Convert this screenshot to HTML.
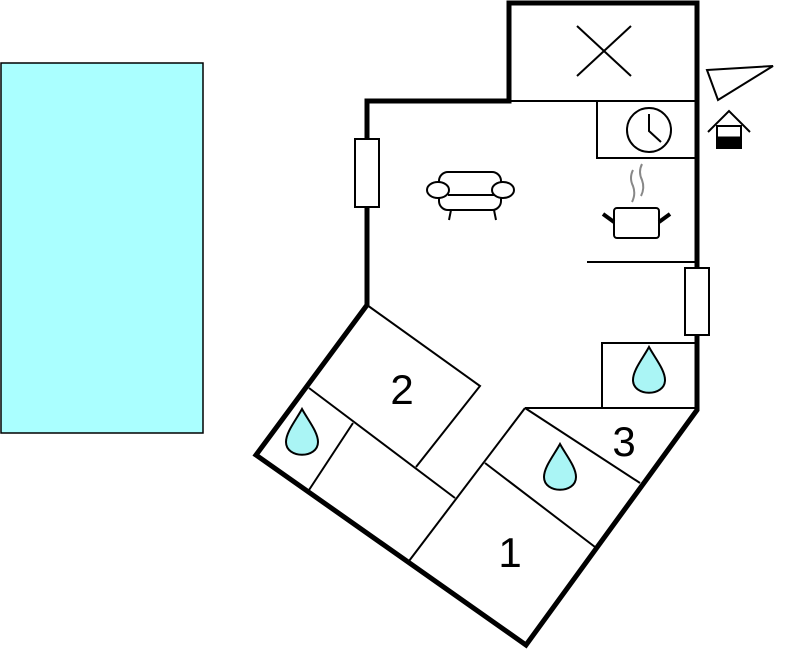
<!DOCTYPE html>
<html><head><style>body{margin:0;background:#fff}svg{display:block}</style></head><body>
<svg width="787" height="652" viewBox="0 0 787 652" xmlns="http://www.w3.org/2000/svg" font-family="Liberation Sans, sans-serif">
<rect x="1" y="63" width="202" height="370" fill="#aaffff" stroke="#000" stroke-width="1.5"/>
<g fill="none" stroke="#000" stroke-linejoin="miter">
<path d="M367,305 L367,101 L509,101 L509,3 L697,3 L697,410 L526,645 L256,455 Z" stroke-width="5"/>
<g stroke-width="2">
<line x1="509" y1="101" x2="697" y2="101"/>
<path d="M697,158 L597,158 L597,101"/>
<line x1="587" y1="262" x2="697" y2="262"/>
<line x1="577" y1="26" x2="631" y2="76"/><line x1="631" y1="26" x2="577" y2="76"/>
<circle cx="649" cy="130" r="22"/>
<path d="M649,114 L649,131 L661,142"/>
<path d="M367,305 L480,386 L416,467"/>
<line x1="309" y1="388" x2="455" y2="498"/>
<line x1="353" y1="423" x2="309" y2="490"/>
<line x1="525" y1="408" x2="409" y2="561"/>
<line x1="485" y1="463" x2="595" y2="547"/>
<line x1="525" y1="408" x2="640" y2="483"/>
<line x1="525" y1="408" x2="697" y2="408"/>
<path d="M697,343 L602,343 L602,408"/>
<path d="M707,70 L773,66 L718,100 Z"/>
<path d="M708,132 L729,111 L750,132"/>
<rect x="717" y="126" width="24" height="22" fill="#fff"/>
</g>
<rect x="717" y="137" width="24" height="11" fill="#000"/>
<rect x="355" y="139" width="24" height="68" fill="#fff" stroke-width="2"/>
<rect x="685" y="268" width="24" height="67" fill="#fff" stroke-width="2"/>
<g stroke-width="2">
<rect x="439" y="172" width="62" height="38" rx="9" fill="#fff"/>
<line x1="448" y1="195" x2="494" y2="195"/>
<ellipse cx="438" cy="190" rx="11" ry="8" fill="#fff"/>
<ellipse cx="503" cy="190" rx="11" ry="8" fill="#fff"/>
<line x1="451" y1="210" x2="449" y2="220"/><line x1="494" y1="210" x2="496" y2="220"/>
<rect x="614" y="208" width="45" height="30" rx="3" fill="#fff"/>
</g>
<g stroke-width="4"><line x1="603" y1="214" x2="614" y2="222"/><line x1="670" y1="214" x2="659" y2="222"/></g>
<g stroke="#888" stroke-width="2"><path d="M633,170 q-4,8 0,16 q3,8 -1,16"/><path d="M642,164 q-4,8 0,16 q3,8 -1,16"/></g>
</g>
<g fill="#aaf5f5" stroke="#000" stroke-width="2">
<path d="M649,347 C643,358 633,370 633,380 C633,397 665,397 665,380 C665,370 655,358 649,347 Z"/>
<path d="M302,409 C296,420 286,432 286,442 C286,459 318,459 318,442 C318,432 308,420 302,409 Z"/>
<path d="M560,444 C554,455 544,467 544,477 C544,494 576,494 576,477 C576,467 566,455 560,444 Z"/>
</g>
<g font-size="42" fill="#000" text-anchor="middle">
<text x="402" y="404">2</text>
<text x="624" y="456">3</text>
<text x="510" y="567">1</text>
</g>
</svg>
</body></html>
